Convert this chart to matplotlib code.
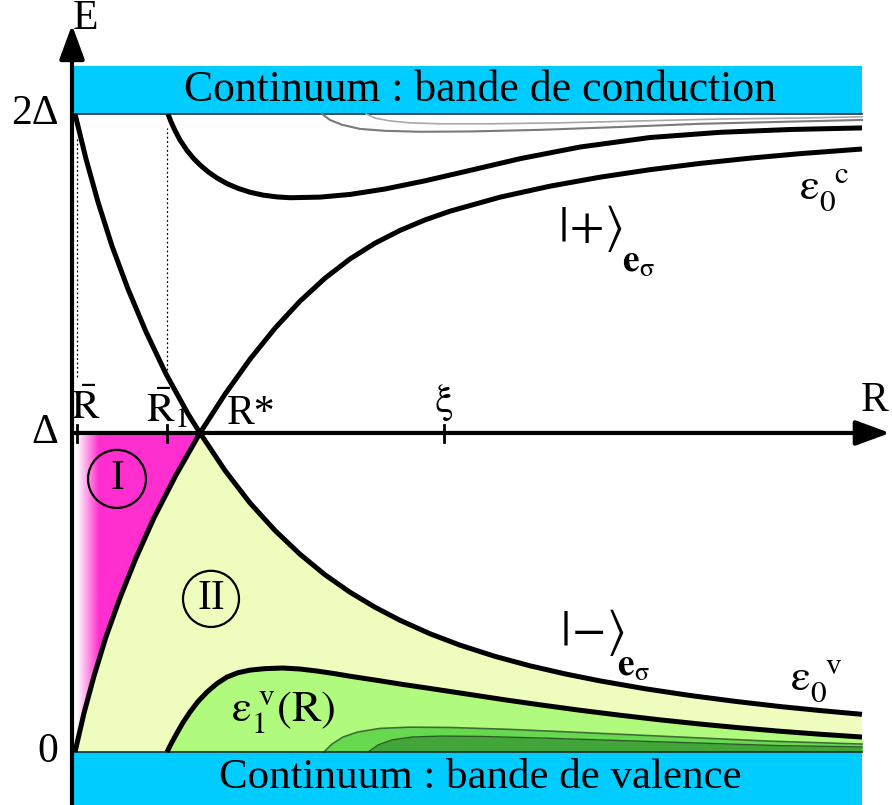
import numpy as np
import matplotlib.pyplot as plt
from matplotlib.patches import Ellipse, Polygon
from matplotlib.colors import LinearSegmentedColormap

plt.rcParams['font.family'] = ['Liberation Serif', 'DejaVu Serif']
plt.rcParams['mathtext.fontset'] = 'stix'
plt.rcParams['mathtext.default'] = 'rm'

# Courbe ε0 (branche montante : 0 -> Δ -> 2Δ), E en unités de Δ
R_up = [0.03, 0.12, 0.22, 0.34, 0.48, 0.64, 0.82, 1.04, 1.28,
        1.53, 1.78, 2.03, 2.28, 2.53, 2.78, 3.03, 3.28, 3.53, 3.78,
        4.28, 4.78, 5.28, 5.78, 6.28, 6.78, 7.28, 7.90]
E_up = [0.0, 0.122, 0.238, 0.361, 0.483, 0.608, 0.734, 0.868, 1.0,
        1.1215, 1.2312, 1.3284, 1.4130, 1.4851, 1.5455, 1.5948, 1.6348, 1.6677, 1.6951,
        1.7390, 1.7735, 1.8017, 1.8252, 1.8448, 1.8613, 1.8754, 1.8900]

# Courbe ε0 (branche descendante : 2Δ -> Δ -> 0)
R_down = [0.03, 0.14, 0.26, 0.40, 0.56, 0.74, 0.94, 1.16, 1.28,
          1.53, 1.78, 2.03, 2.28, 2.53, 2.78, 3.03, 3.28, 3.58, 3.88,
          4.23, 4.58, 4.93, 5.28, 5.73, 6.18, 6.63, 7.08, 7.48, 7.90]
E_down = [2.0, 1.859, 1.724, 1.586, 1.451, 1.317, 1.185, 1.060, 1.0,
          0.8824, 0.7806, 0.6944, 0.6199, 0.5556, 0.5008, 0.4538, 0.4130, 0.3707, 0.3350,
          0.2998, 0.2702, 0.2450, 0.2230, 0.1984, 0.1773, 0.1589, 0.1426, 0.1301, 0.1182]

# ε1 conduction
R_e1c = [0.96, 0.99, 1.03, 1.08, 1.15, 1.22, 1.28, 1.36, 1.45, 1.55, 1.66, 1.78, 1.91,
         2.05, 2.18, 2.48, 2.78, 3.13, 3.53, 3.98, 4.48, 5.08, 5.78, 6.48, 7.18, 7.90]
E_e1c = [2.0, 1.9755, 1.9480, 1.9182, 1.8853, 1.8589, 1.8401, 1.8188, 1.7991, 1.7815,
         1.7668, 1.7545, 1.7455, 1.7398, 1.7373, 1.7392, 1.7476, 1.7646, 1.7903, 1.8229,
         1.8596, 1.8962, 1.9260, 1.9423, 1.9511, 1.9561]

# ε1 valence
R_e1v = [0.95, 1.00, 1.05, 1.11, 1.18, 1.26, 1.35, 1.45, 1.55, 1.66, 1.78, 1.93, 2.11,
         2.28, 2.45, 2.63, 2.78, 3.03, 3.28, 3.63, 3.98, 4.33, 4.68, 5.08, 5.48, 5.88,
         6.28, 6.68, 7.08, 7.48, 7.90]
E_e1v = [0.0, 0.0313, 0.0596, 0.0925, 0.1254, 0.1583, 0.1881, 0.2147, 0.2351, 0.2486,
         0.2567, 0.2614, 0.2633, 0.2602, 0.2539, 0.2455, 0.2376, 0.2257, 0.2132, 0.1969,
         0.1803, 0.1636, 0.1480, 0.1310, 0.1154, 0.1009, 0.0878, 0.0759, 0.0652, 0.0558,
         0.0470]

# niveaux supérieurs (gris, en haut)
R_g1 = [2.50, 2.58, 2.70, 2.88, 3.13, 3.48, 3.98, 4.68, 5.48, 6.28, 7.08, 7.90]
E_g1 = [2.0, 1.981, 1.966, 1.953, 1.947, 1.944, 1.945, 1.950, 1.959, 1.969, 1.975, 1.981]
R_g2 = [2.94, 3.03, 3.18, 3.38, 3.68, 4.18, 4.88, 5.68, 6.48, 7.28, 7.90]
E_g2 = [2.0, 1.987, 1.978, 1.972, 1.969, 1.969, 1.972, 1.978, 1.984, 1.987, 1.991]

# niveaux supérieurs (verts, en bas)
R_v1 = [2.52, 2.60, 2.71, 2.86, 3.08, 3.38, 3.78, 4.38, 5.18, 6.08, 6.98, 7.90]
E_v1 = [0.0, 0.025, 0.047, 0.063, 0.074, 0.078, 0.077, 0.071, 0.060, 0.047, 0.034, 0.025]
R_v2 = [2.96, 3.06, 3.20, 3.40, 3.68, 4.08, 4.68, 5.48, 6.28, 7.08, 7.90]
E_v2 = [0.0, 0.022, 0.038, 0.047, 0.050, 0.049, 0.044, 0.036, 0.028, 0.020, 0.016]

# positions sur l'axe R
R_bar, R_bar1, R_star, R_xi = 0.05, 0.95, 1.28, 3.72
R_end = 7.90

cyan = '#00ccff'
magenta = '#ff2ecf'
jaune = '#eefdbe'
vert1 = '#b0fa7e'
vert2 = '#66d94f'
vert3 = '#41a53a'

fig = plt.figure(figsize=(8.92, 8.05), dpi=100)
ax = fig.add_axes([0, 0, 1, 1])
ax.set_xlim(-0.72, 8.20)
ax.set_ylim(-0.166, 2.357)
ax.axis('off')

# bandes du continuum
ax.fill_between([0, R_end], 2.0, 2.150, color=cyan, lw=0, zorder=1)
ax.fill_between([0, R_end], -0.166, 0.0, color=cyan, lw=0, zorder=1)
ax.plot([0, R_end], [2.0, 2.0], color='#103040', lw=1.2, zorder=2)
ax.plot([0, R_end], [0.0, 0.0], color='#103040', lw=1.2, zorder=2)

# zone II (jaune)
i_up = R_up.index(R_star)
i_dn = R_down.index(R_star)
xs = R_up[:i_up + 1] + R_down[i_dn + 1:] + [R_end]
ys = E_up[:i_up + 1] + E_down[i_dn + 1:] + [0.0]
ax.fill(xs, ys, color=jaune, lw=0, zorder=1)

# verts
ax.fill_between(R_e1v, 0, E_e1v, color=vert1, lw=0, zorder=1.1)
ax.fill_between(R_v1, 0, E_v1, color=vert2, lw=0, zorder=1.2)
ax.fill_between(R_v2, 0, E_v2, color=vert3, lw=0, zorder=1.3)
ax.plot(R_v1, E_v1, color='#3f6e35', lw=1.2, zorder=1.4)
ax.plot(R_v2, E_v2, color='#2f5a28', lw=1.0, zorder=1.4)

# zone I (magenta, dégradé à gauche)
poly = [(0.0, 1.0)] + list(zip(R_up[:i_up + 1][::-1], E_up[:i_up + 1][::-1])) + [(0.0, 0.0)]
patch = Polygon(poly, closed=True, facecolor='none', edgecolor='none')
ax.add_patch(patch)
cmap = LinearSegmentedColormap.from_list('wm', ['white', magenta])
grad = np.clip(np.linspace(-0.2, 5.5, 300), 0, 1)[None, :]
im = ax.imshow(grad, cmap=cmap, vmin=0, vmax=1, extent=[0.0, R_star, 0.0, 1.0],
               aspect='auto', interpolation='bilinear', zorder=1)
im.set_clip_path(patch)

# courbes
kw = dict(color='black', lw=3.6, solid_capstyle='butt', solid_joinstyle='round', zorder=4)
ax.plot(R_up, E_up, **kw)
ax.plot(R_down, E_down, **kw)
ax.plot(R_e1c, E_e1c, **kw)
ax.plot(R_e1v, E_e1v, **kw)
ax.plot(R_g1, E_g1, color='#7a7a7a', lw=1.5, zorder=3)
ax.plot(R_g2, E_g2, color='#a8a8a8', lw=1.2, zorder=3)

# pointillés
ax.plot([R_bar, R_bar], [1.176, 1.928], color='black', lw=0.9, ls=(0, (1.5, 2)), zorder=3)
ax.plot([R_bar1, R_bar1], [1.197, 1.956], color='black', lw=0.9, ls=(0, (1.5, 2)), zorder=3)

# axes avec flèches
arrow = dict(arrowstyle='-|>,head_length=0.6,head_width=0.22', lw=3.0,
             color='black', mutation_scale=35, shrinkA=0, shrinkB=0)
ax.annotate('', xy=(0, 2.279), xytext=(0, -0.166), arrowprops=arrow, zorder=5)
ax.annotate('', xy=(8.18, 1.0), xytext=(0, 1.0), arrowprops=arrow, zorder=5)
for r in [R_bar, R_bar1, R_xi]:
    ax.plot([r, r], [0.972, 1.024], color='black', lw=2.0, zorder=5)

fs = 30
ax.text(0.14, 2.298, 'E', fontsize=fs, ha='center', va='center')
ax.text(8.03, 1.100, 'R', fontsize=fs, ha='center', va='center')
ax.text(-0.135, 2.0, '2Δ', fontsize=fs, ha='right', va='center')
ax.text(-0.135, 1.0, 'Δ', fontsize=fs, ha='right', va='center')
ax.text(-0.135, 0.0, '0', fontsize=fs, ha='right', va='center')

ax.text(0.14, 1.075, r'$\bar{R}$', fontsize=fs, ha='center', va='center')
ax.text(0.74, 1.075, r'$\bar{R}_{1}$', fontsize=fs, ha='left', va='center')
ax.text(1.79, 1.060, 'R*', fontsize=fs, ha='center', va='center')
ax.text(R_xi, 1.094, r'$\xi$', fontsize=fs, ha='center', va='center')

ax.text(4.08, 2.075, 'Continuum : bande de conduction', fontsize=31.5, ha='center', va='center')
ax.text(4.08, -0.082, 'Continuum : bande de valence', fontsize=31, ha='center', va='center')

# régions
ax.add_patch(Ellipse((0.45, 0.856), 0.58, 0.182, fill=False, lw=1.6, zorder=6))
ax.text(0.45, 0.856, 'I', fontsize=fs, ha='center', va='center', zorder=6)
ax.add_patch(Ellipse((1.39, 0.480), 0.56, 0.176, fill=False, lw=1.6, zorder=6))
ax.text(1.39, 0.480, 'II', fontsize=fs, ha='center', va='center', zorder=6)

# kets
ax.text(4.86, 1.640, r'$|\!+\!\rangle$', fontsize=36, ha='left', va='center')
ax.text(5.50, 1.535, r'$\mathbf{e}_{\sigma}$', fontsize=27, ha='left', va='center')
ax.text(4.88, 0.376, r'$|\!-\!\rangle$', fontsize=36, ha='left', va='center')
ax.text(5.45, 0.270, r'$\mathbf{e}_{\sigma}$', fontsize=27, ha='left', va='center')

ax.text(7.52, 1.760, r'$\varepsilon_{0}^{\ \ c}$', fontsize=32, ha='center', va='center')
ax.text(7.44, 0.222, r'$\varepsilon_{0}^{\ \ v}$', fontsize=32, ha='center', va='center')
ax.text(2.11, 0.125, r'$\varepsilon_{1}^{\ v}(R)$', fontsize=32, ha='center', va='center', zorder=6)

fig.savefig('out.png', dpi=100)
